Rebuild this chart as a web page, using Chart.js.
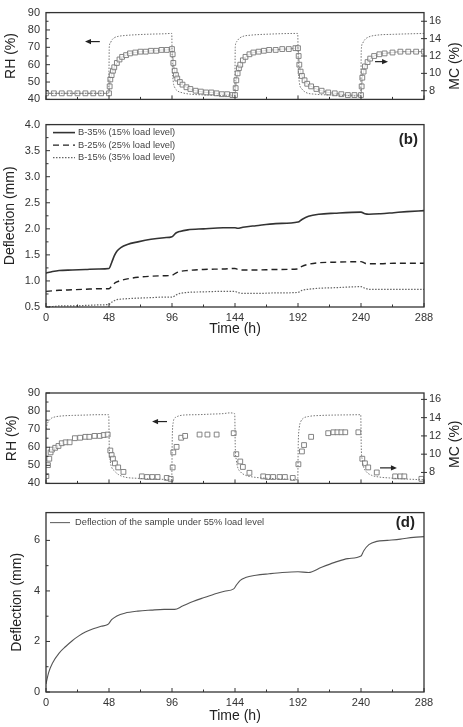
<!DOCTYPE html>
<html>
<head>
<meta charset="utf-8">
<script src="https://cdn.jsdelivr.net/npm/chart.js@4.4.1/dist/chart.umd.min.js"></script>
<style>
  body { margin: 0; background: #fff; }
  #wrap { position: relative; width: 463px; height: 727px; }
  canvas { position: absolute; left: 0; }
</style>
</head>
<body>
<div id="wrap">
  <canvas id="c1" width="463" height="112" style="top:0px"></canvas>
  <canvas id="c2" width="463" height="228" style="top:112px"></canvas>
  <canvas id="c3" width="463" height="116" style="top:380px"></canvas>
  <canvas id="c4" width="463" height="227" style="top:500px"></canvas>
</div>
<script>
// ---- data ----
const timeTicks = [0, 48, 96, 144, 192, 240, 288];
const rhTicks = [40, 50, 60, 70, 80, 90];
const mcTicks = [8, 10, 12, 14, 16];
const defTicksB = [0.5, 1.0, 1.5, 2.0, 2.5, 3.0, 3.5, 4.0];
const defTicksD = [0, 2, 4, 6];

// panel (a): RH and MC
const rhTimeA = [0, 12, 24, 36, 47.8, 48.2, 49, 50, 52, 55, 60, 70, 80, 90, 95.8, 96.2, 97, 98, 100, 104, 110, 120, 130, 143.8,
  144.2, 145, 147, 150, 156, 170, 191.8, 192.2, 193, 195, 198, 205, 220, 239.8, 240.2, 241, 243, 246, 252, 265, 288];
const rhA = [43.5, 43.5, 43.5, 43.5, 43.5, 70, 72.5, 74, 75.5, 76.3, 76.8, 77.3, 77.6, 77.8, 78, 60, 50, 47, 45, 43.8, 43, 42.6, 42.3, 42,
  70, 73, 75, 76.3, 77, 77.6, 78, 60, 50, 46, 44, 43, 42.5, 42, 68, 72, 74.5, 76, 77, 77.5, 78];
const mcTimeA = [0, 6, 12, 18, 24, 30, 36, 42, 48,
  48.5, 49, 50, 51, 52, 54, 56, 58, 61, 64, 68, 72, 76, 80, 84, 88, 92, 96,
  96.5, 97, 98, 99, 100, 102, 104, 107, 110, 114, 118, 122, 126, 130, 134, 138, 142, 144,
  144.5, 145, 146, 147, 148, 150, 152, 155, 158, 162, 166, 170, 175, 180, 185, 190, 192,
  192.5, 193, 194, 195, 197, 199, 202, 206, 210, 215, 220, 225, 230, 235, 240,
  240.5, 241, 242, 243, 245, 247, 250, 254, 258, 264, 270, 276, 282, 288];
const mcA = [7.7, 7.7, 7.7, 7.7, 7.7, 7.7, 7.7, 7.7, 7.7,
  8.5, 9.3, 9.8, 10.3, 10.7, 11.2, 11.6, 11.9, 12.1, 12.3, 12.4, 12.5, 12.5, 12.6, 12.6, 12.7, 12.7, 12.8,
  12.2, 11.2, 10.3, 9.8, 9.4, 9.0, 8.7, 8.4, 8.2, 8.0, 7.9, 7.8, 7.8, 7.7, 7.6, 7.6, 7.5, 7.5,
  8.3, 9.2, 10.0, 10.6, 11.0, 11.5, 11.9, 12.2, 12.4, 12.5, 12.6, 12.7, 12.7, 12.8, 12.8, 12.9, 12.9,
  12.0, 11.0, 10.2, 9.7, 9.2, 8.8, 8.5, 8.2, 8.0, 7.8, 7.7, 7.6, 7.5, 7.5, 7.5,
  8.5, 9.5, 10.2, 10.8, 11.3, 11.7, 12.0, 12.2, 12.3, 12.4, 12.5, 12.5, 12.5, 12.5];

// panel (b): deflection
const defTimeB = [0, 5, 10, 20, 30, 40, 48, 50, 52, 54, 57, 62, 70, 80, 90, 96, 99, 102, 108, 120, 135, 144, 146, 150, 160, 175,
  192, 195, 200, 208, 220, 240, 243, 246, 255, 265, 275, 288];
const b35 = [1.15, 1.18, 1.2, 1.21, 1.22, 1.23, 1.24, 1.35, 1.48, 1.57, 1.64, 1.7, 1.75, 1.8, 1.83, 1.85, 1.92, 1.95, 1.98, 2.0, 2.02, 2.02, 2.01, 2.03, 2.06, 2.1,
  2.13, 2.18, 2.24, 2.28, 2.3, 2.32, 2.29, 2.28, 2.29, 2.31, 2.33, 2.35];
const b25 = [0.8, 0.81, 0.82, 0.83, 0.84, 0.85, 0.85, 0.9, 0.95, 0.98, 1.01, 1.04, 1.07, 1.09, 1.1, 1.11, 1.15, 1.18, 1.2, 1.22, 1.23, 1.24, 1.22, 1.21, 1.21, 1.22,
  1.23, 1.28, 1.32, 1.35, 1.36, 1.37, 1.34, 1.33, 1.33, 1.34, 1.34, 1.34];
const b15 = [0.51, 0.51, 0.52, 0.52, 0.53, 0.54, 0.55, 0.59, 0.62, 0.64, 0.65, 0.66, 0.67, 0.68, 0.69, 0.69, 0.73, 0.76, 0.78, 0.79, 0.8, 0.8, 0.78, 0.76, 0.76, 0.77,
  0.78, 0.82, 0.84, 0.86, 0.87, 0.89, 0.86, 0.84, 0.84, 0.84, 0.84, 0.84];

// panel (c): RH and MC
const rhTimeC = [0, 1, 2, 4, 7, 12, 20, 30, 40, 47.8, 48.2, 49, 50, 52, 55, 60, 70, 80, 90, 95.8,
  96.2, 97, 98, 100, 105, 115, 125, 135, 140, 143.8, 144.2, 145, 146, 148, 152, 158, 165, 175, 185, 191.8,
  192.2, 193, 194, 196, 200, 210, 220, 230, 239.8, 240.2, 241, 242, 244, 248, 254, 262, 272, 288];
const rhC = [70, 73, 74.5, 76, 76.8, 77.3, 77.6, 77.8, 78, 78, 60, 52, 49, 47, 45, 43.5, 42.8, 42.5, 42.2, 42,
  65, 74, 76, 77, 77.8, 78, 78.3, 78.6, 79, 78.5, 60, 53, 49, 46.5, 44.5, 43.5, 43, 42.6, 42.3, 42,
  62, 71, 74, 76, 77, 77.6, 77.8, 77.9, 78, 60, 53, 49, 46.5, 44.5, 43.5, 43, 42.5, 42];
const mcTimeC = [0.3, 1.5, 2.5, 3.5, 4.5, 7, 9.5, 12, 15, 18, 22, 26, 30, 33, 37, 41, 44, 47,
  49, 50, 51, 52.5, 55, 59, 73, 77, 81, 85, 92, 95,
  96.5, 97, 99.5, 103, 106, 117, 123, 130, 143, 145, 148, 150, 155, 165.5, 169, 173, 178, 182, 188,
  192.3, 195, 196.6, 202, 215, 219, 222, 225, 228, 238, 241, 243, 245.5, 252, 266, 270, 273, 286];
const mcC = [7.6, 8.8, 9.5, 10.2, 10.5, 10.7, 10.9, 11.2, 11.3, 11.3, 11.75, 11.8, 11.9, 11.9, 12.0, 12.0, 12.1, 12.15,
  10.4, 9.9, 9.5, 9.0, 8.55, 8.06, 7.57, 7.5, 7.5, 7.5, 7.4, 7.3,
  8.55, 10.2, 10.8, 11.8, 12.0, 12.15, 12.15, 12.15, 12.3, 10.0, 9.2, 8.6, 7.96, 7.57, 7.5, 7.5, 7.5, 7.5, 7.4,
  8.9, 10.3, 11.0, 11.9, 12.3, 12.4, 12.4, 12.4, 12.4, 12.4, 9.5, 9.0, 8.55, 8.0, 7.57, 7.57, 7.57, 7.3];

// panel (d): deflection at 55% load
const defTimeD = [0, 2, 5, 10, 15, 20, 25, 30, 36, 42, 47, 48, 50, 54, 60, 70, 80, 90, 98, 104,
  112, 120, 128, 136, 143, 145, 148, 152, 160, 170, 180, 192, 200, 210, 220, 230, 240, 242, 246, 252,
  260, 270, 280, 288];
const defD = [0.32, 0.77, 1.15, 1.54, 1.8, 2.03, 2.22, 2.37, 2.5, 2.6, 2.67, 2.72, 2.86, 3.01, 3.12, 3.2, 3.24, 3.27, 3.27, 3.4,
  3.58, 3.73, 3.87, 3.99, 4.08, 4.23, 4.42, 4.53, 4.62, 4.68, 4.73, 4.76, 4.73, 4.94, 5.13, 5.28, 5.38, 5.58, 5.83, 5.96,
  6.0, 6.05, 6.12, 6.15];

// ---- helpers ----
Chart.defaults.font.family = "'Liberation Sans', Arial, sans-serif";
Chart.defaults.color = '#333';
Chart.defaults.animation = false;

const pts = (ts, vs) => ts.map((t, i) => ({ x: t, y: vs[i] }));
const halfway = arr => arr.slice(1).map((v, i) => (v + arr[i]) / 2);

// frame, inward ticks, legend, tag, arrows, right title
const decor = {
  id: 'decor',
  afterDatasetsDraw(chart, args, o) {
    const { ctx, chartArea: a, scales } = chart;
    const line = (x1, y1, x2, y2) => { ctx.beginPath(); ctx.moveTo(x1, y1); ctx.lineTo(x2, y2); ctx.stroke(); };
    ctx.save();
    ctx.strokeStyle = '#333';
    ctx.lineWidth = 1.3;
    ctx.strokeRect(a.left, a.top, a.right - a.left, a.bottom - a.top);

    ctx.lineWidth = 1;
    timeTicks.forEach(v => { const x = scales.x.getPixelForValue(v); line(x, a.bottom, x, a.bottom - 4); });
    halfway(timeTicks).forEach(v => { const x = scales.x.getPixelForValue(v); line(x, a.bottom, x, a.bottom - 2.5); });
    o.yTicks.forEach(v => { const y = scales.y.getPixelForValue(v); line(a.left, y, a.left + 4, y); });
    halfway(o.yTicks).forEach(v => { const y = scales.y.getPixelForValue(v); line(a.left, y, a.left + 2.5, y); });
    if (o.y1Ticks) {
      o.y1Ticks.forEach(v => { const y = scales.y1.getPixelForValue(v); line(a.right - 3, y, a.right + 3, y); });
    }

    (o.legend || []).forEach((it, i) => {
      const y = a.top + o.legendTop + i * o.legendGap;
      ctx.strokeStyle = it.color;
      ctx.lineWidth = it.width;
      ctx.setLineDash(it.dash || []);
      line(a.left + o.lx1, y, a.left + o.lx2, y);
      ctx.setLineDash([]);
      ctx.fillStyle = '#444';
      ctx.font = o.legendFont;
      ctx.textBaseline = 'middle';
      ctx.textAlign = 'left';
      ctx.fillText(it.text, a.left + o.tx, y);
    });

    if (o.tag) {
      ctx.fillStyle = '#222';
      ctx.font = "bold 15px 'Liberation Sans', Arial, sans-serif";
      ctx.textAlign = 'right';
      ctx.textBaseline = 'middle';
      ctx.fillText(o.tag, a.right - o.tagDx, a.top + o.tagDy);
    }

    (o.arrows || []).forEach(ar => {
      const s = scales[ar.axis];
      const x1 = scales.x.getPixelForValue(ar.from), x2 = scales.x.getPixelForValue(ar.to);
      const y = s.getPixelForValue(ar.v);
      const dir = Math.sign(x2 - x1);
      ctx.strokeStyle = '#222';
      ctx.fillStyle = '#222';
      ctx.lineWidth = 1.2;
      line(x1, y, x2 - dir * 4, y);
      ctx.beginPath();
      ctx.moveTo(x2, y);
      ctx.lineTo(x2 - dir * 6, y - 2.6);
      ctx.lineTo(x2 - dir * 6, y + 2.6);
      ctx.closePath();
      ctx.fill();
    });

    if (o.rightTitle) {
      ctx.fillStyle = '#222';
      ctx.font = "14px 'Liberation Sans', Arial, sans-serif";
      ctx.textAlign = 'center';
      ctx.textBaseline = 'middle';
      ctx.translate(o.rightTitleX, (a.top + a.bottom) / 2 + o.rightTitleDy);
      ctx.rotate(-Math.PI / 2);
      ctx.fillText(o.rightTitle, 0, 0);
    }
    ctx.restore();
  }
};

function xAxis(labels, height) {
  return {
    type: 'linear', min: 0, max: 288,
    grid: { display: false, drawTicks: false },
    border: { display: false },
    afterBuildTicks: s => { s.ticks = timeTicks.map(v => ({ value: v })); },
    ticks: { display: labels, padding: 4, font: { size: 11 }, color: '#333' },
    title: { display: labels, text: 'Time (h)', font: { size: 14 }, color: '#222', padding: { top: 0, bottom: labels ? 2 : 0 } },
    afterFit: s => { s.height = height; }
  };
}

function yAxis(min, max, tickVals, title, titlePad, fmt) {
  return {
    type: 'linear', position: 'left', min: min, max: max,
    grid: { display: false, drawTicks: false },
    border: { display: false },
    afterBuildTicks: s => { s.ticks = tickVals.map(v => ({ value: v })); },
    ticks: { padding: 6, font: { size: 11 }, color: '#333', callback: fmt || (v => v) },
    title: { display: true, text: title, font: { size: 14 }, color: '#222', padding: { top: titlePad, bottom: 0 } },
    afterFit: s => { s.width = 46; }
  };
}

function mcAxis(min, max) {
  return {
    type: 'linear', position: 'right', min: min, max: max,
    grid: { display: false, drawTicks: false },
    border: { display: false },
    afterBuildTicks: s => { s.ticks = mcTicks.map(v => ({ value: v })); },
    ticks: { padding: 5, font: { size: 11 }, color: '#333' },
    afterFit: s => { s.width = 39; }
  };
}

const rhStyle = { borderColor: '#777', borderWidth: 1, borderDash: [1.5, 1.5], pointRadius: 0, tension: 0.3, cubicInterpolationMode: 'monotone' };

// ---- panel (a) ----
new Chart(document.getElementById('c1'), {
  type: 'line',
  data: {
    datasets: [
      Object.assign({ label: 'RH', data: pts(rhTimeA, rhA), yAxisID: 'y' }, rhStyle),
      { label: 'MC', data: pts(mcTimeA, mcA), yAxisID: 'y1', borderColor: '#888', borderWidth: 1,
        pointStyle: 'rect', pointRadius: 3.4, pointBorderWidth: 0.9, pointBorderColor: '#777',
        pointBackgroundColor: 'rgba(255,255,255,0.7)', cubicInterpolationMode: 'monotone' }
    ]
  },
  options: {
    responsive: false,
    layout: { padding: { top: 6, bottom: 0, left: 0, right: 0 } },
    plugins: {
      legend: { display: false }, tooltip: { enabled: false },
      decor: {
        yTicks: rhTicks, y1Ticks: mcTicks,
        arrows: [{ axis: 'y', v: 73.3, from: 41, to: 29.7 }, { axis: 'y1', v: 11.35, from: 250.7, to: 260.6 }],
        rightTitle: 'MC (%)', rightTitleX: 455, rightTitleDy: 10
      }
    },
    scales: {
      x: xAxis(false, 3),
      y: yAxis(40, 90, rhTicks, 'RH (%)', 3),
      y1: mcAxis(7, 17)
    }
  },
  plugins: [decor]
});

// ---- panel (b) ----
new Chart(document.getElementById('c2'), {
  type: 'line',
  data: {
    datasets: [
      { label: 'B-35% (15% load level)', data: pts(defTimeB, b35), borderColor: '#333', borderWidth: 1.6, pointRadius: 0, cubicInterpolationMode: 'monotone' },
      { label: 'B-25% (25% load level)', data: pts(defTimeB, b25), borderColor: '#222', borderWidth: 1.4, borderDash: [6, 4], pointRadius: 0, cubicInterpolationMode: 'monotone' },
      { label: 'B-15% (35% load level)', data: pts(defTimeB, b15), borderColor: '#666', borderWidth: 1.2, borderDash: [1.5, 1.5], pointRadius: 0, cubicInterpolationMode: 'monotone' }
    ]
  },
  options: {
    responsive: false,
    layout: { padding: { top: 12, bottom: 0, left: 0, right: 39 } },
    plugins: {
      legend: { display: false }, tooltip: { enabled: false },
      decor: {
        yTicks: defTicksB,
        legend: [
          { text: 'B-35% (15% load level)', color: '#333', width: 1.6 },
          { text: 'B-25% (25% load level)', color: '#222', width: 1.4, dash: [6, 4] },
          { text: 'B-15% (35% load level)', color: '#666', width: 1.2, dash: [1.5, 1.5] }
        ],
        legendTop: 8, legendGap: 12.5, lx1: 7, lx2: 29, tx: 32,
        legendFont: "9.3px 'Liberation Sans', Arial, sans-serif",
        tag: '(b)', tagDx: 6, tagDy: 15
      }
    },
    scales: {
      x: xAxis(true, 33),
      y: yAxis(0.5, 4.0, defTicksB, 'Deflection (mm)', 2, v => v.toFixed(1))
    }
  },
  plugins: [decor]
});

// ---- panel (c) ----
new Chart(document.getElementById('c3'), {
  type: 'line',
  data: {
    datasets: [
      Object.assign({ label: 'RH', data: pts(rhTimeC, rhC), yAxisID: 'y' }, rhStyle),
      { label: 'MC', data: pts(mcTimeC, mcC), yAxisID: 'y1', showLine: false,
        pointStyle: 'rect', pointRadius: 3.4, pointBorderWidth: 0.9, pointBorderColor: '#777',
        pointBackgroundColor: 'rgba(255,255,255,0.7)' }
    ]
  },
  options: {
    responsive: false,
    layout: { padding: { top: 13, bottom: 0, left: 0, right: 0 } },
    plugins: {
      legend: { display: false }, tooltip: { enabled: false },
      decor: {
        yTicks: rhTicks, y1Ticks: mcTicks,
        arrows: [{ axis: 'y', v: 74.2, from: 92.2, to: 80.8 }, { axis: 'y1', v: 8.5, from: 254.5, to: 267.4 }],
        rightTitle: 'MC (%)', rightTitleX: 455, rightTitleDy: 6
      }
    },
    scales: {
      x: xAxis(false, 2),
      y: yAxis(40, 90, rhTicks, 'RH (%)', 4),
      y1: mcAxis(6.8, 16.7)
    }
  },
  plugins: [decor]
});

// ---- panel (d) ----
new Chart(document.getElementById('c4'), {
  type: 'line',
  data: {
    datasets: [
      { label: 'Deflection of the sample under 55% load level', data: pts(defTimeD, defD), borderColor: '#555', borderWidth: 1.1, pointRadius: 0, cubicInterpolationMode: 'monotone' }
    ]
  },
  options: {
    responsive: false,
    layout: { padding: { top: 7, bottom: 0, left: 0, right: 39 } },
    plugins: {
      legend: { display: false }, tooltip: { enabled: false },
      decor: {
        yTicks: defTicksD,
        legend: [{ text: 'Deflection of the sample under 55% load level', color: '#666', width: 1.1 }],
        legendTop: 10, legendGap: 0, lx1: 4, lx2: 24, tx: 29,
        legendFont: "9.3px 'Liberation Sans', Arial, sans-serif",
        tag: '(d)', tagDx: 9, tagDy: 10
      }
    },
    scales: {
      x: xAxis(true, 35),
      y: yAxis(0, 7.1, defTicksD, 'Deflection (mm)', 9)
    }
  },
  plugins: [decor]
});
</script>
</body>
</html>
